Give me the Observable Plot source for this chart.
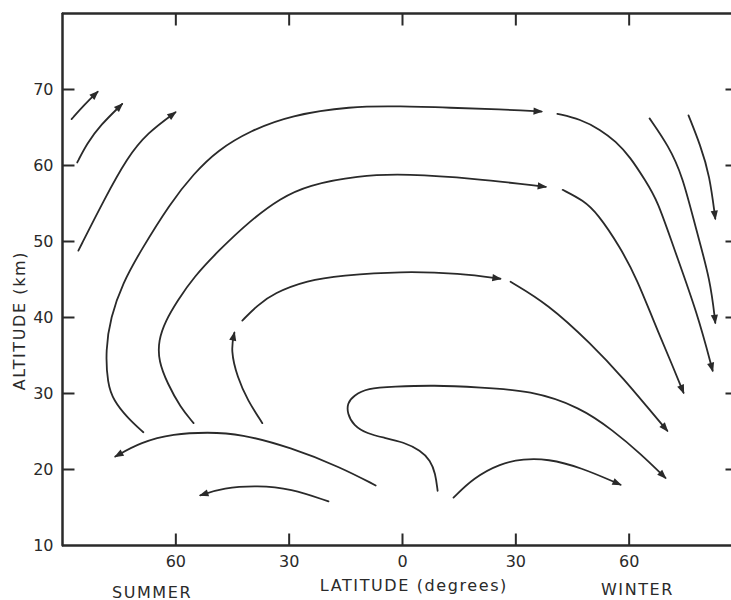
<!DOCTYPE html>
<html>
<head>
<meta charset="utf-8">
<script src="https://cdn.jsdelivr.net/npm/d3@7"></script>
<script src="https://cdn.jsdelivr.net/npm/@observablehq/plot@0.6"></script>
<style>
  html, body { margin: 0; padding: 0; overflow: hidden; background: #fff; }
  svg g[aria-label="text"] text { letter-spacing: 1.6px; }
</style>
</head>
<body>
<div id="chart"></div>
<script>
// Axis ticks (latitude: negative = summer hemisphere, positive = winter hemisphere)
const latTicks = [-60, -30, 0, 30, 60];
const altTicks = [10, 20, 30, 40, 50, 60, 70];

// Streamlines, as [latitude, altitude km] pairs, each ending in an arrowhead
const mesoArrow1 = [[-87.6, 66.1], [-84.2, 68.0], [-80.7, 69.7]];
const mesoArrow2 = [[-86.1, 60.4], [-83.5, 62.9], [-80.0, 65.3], [-74.2, 68.1]];
const mesoArrow3 = [[-85.8, 48.8], [-79.1, 55.4], [-72.8, 61.1], [-67.5, 64.3], [-60.1, 67.0]];
const outerLoopUp = [[-68.6, 24.9], [-72.8, 26.8], [-76.5, 29.1], [-78.1, 31.3], [-78.6, 35.7], [-77.3, 40.0],
  [-74.1, 44.5], [-69.3, 48.8], [-61.4, 55.1], [-55.3, 58.9], [-49.0, 62.0], [-40.2, 64.6], [-29.6, 66.6],
  [-13.8, 67.8], [-0.5, 67.8], [12.7, 67.6], [25.9, 67.4], [36.8, 67.1]];
const outerLoopDown = [[41.0, 66.8], [47.1, 66.1], [52.4, 64.7], [56.4, 63.2], [60.3, 61.1], [64.3, 58.0],
  [67.5, 55.4], [71.7, 49.3], [78.1, 40.5], [82.1, 33.0]];
const secondLoopUp = [[-55.3, 26.1], [-58.8, 28.2], [-62.2, 31.3], [-64.6, 34.3], [-64.6, 37.0], [-62.7, 39.6],
  [-59.6, 42.2], [-55.3, 45.3], [-48.7, 48.8], [-40.2, 52.8], [-32.3, 55.7], [-25.1, 57.4], [-11.9, 58.7],
  [1.3, 58.9], [18.8, 58.3], [37.9, 57.2]];
const secondLoopDown = [[42.4, 56.8], [47.9, 55.4], [51.6, 53.7], [57.7, 49.2], [62.2, 44.9], [66.4, 39.6],
  [71.7, 33.4], [74.4, 30.1]];
const winterPole1 = [[65.4, 66.2], [70.4, 62.6], [74.1, 58.7], [77.8, 51.4], [81.5, 44.9], [82.8, 39.3]];
const winterPole2 = [[75.7, 66.6], [78.9, 62.6], [81.3, 58.7], [82.8, 53.0]];
const summerRise = [[-37.1, 26.1], [-41.0, 29.1], [-43.7, 32.1], [-45.5, 35.7], [-44.5, 38.0]];
const thirdLoopUp = [[-42.4, 39.6], [-38.4, 41.6], [-34.1, 43.2], [-25.1, 44.9], [-16.4, 45.5], [-0.5, 46.1],
  [15.4, 45.8], [25.9, 45.1]];
const thirdLoopDown = [[28.6, 44.7], [38.4, 41.8], [49.8, 36.6], [59.0, 31.7], [64.8, 28.2], [70.1, 25.1]];
const tropicalS = [[9.3, 17.2], [8.7, 19.5], [7.4, 21.2], [4.8, 22.5], [0.3, 23.6], [-5.0, 24.2], [-9.3, 24.7],
  [-13.0, 25.8], [-14.6, 27.4], [-14.6, 28.7], [-13.0, 29.7], [-9.3, 30.7], [-2.4, 30.9], [8.2, 31.1],
  [20.6, 30.8], [33.9, 30.4], [47.1, 28.2], [55.8, 25.1], [63.0, 22.1], [69.6, 18.9]];
const lowerWinter = [[13.5, 16.3], [18.8, 18.9], [25.9, 20.8], [32.0, 21.4], [38.4, 21.4], [47.1, 20.3], [57.7, 18.0]];
const lowerSummer = [[-7.1, 17.9], [-16.4, 20.3], [-29.6, 22.9], [-42.9, 24.7], [-51.6, 24.9], [-60.6, 24.7],
  [-69.3, 23.6], [-76.0, 21.7]];
const lowestSummer = [[-19.6, 15.8], [-29.6, 17.5], [-38.4, 17.9], [-47.4, 17.6], [-53.5, 16.6]];

const streamlines = [
  ["mesoArrow1", mesoArrow1], ["mesoArrow2", mesoArrow2], ["mesoArrow3", mesoArrow3],
  ["outerLoopUp", outerLoopUp], ["outerLoopDown", outerLoopDown],
  ["secondLoopUp", secondLoopUp], ["secondLoopDown", secondLoopDown],
  ["winterPole1", winterPole1], ["winterPole2", winterPole2],
  ["summerRise", summerRise], ["thirdLoopUp", thirdLoopUp], ["thirdLoopDown", thirdLoopDown],
  ["tropicalS", tropicalS], ["lowerWinter", lowerWinter], ["lowerSummer", lowerSummer],
  ["lowestSummer", lowestSummer]
];
const rows = streamlines.flatMap(([id, pts]) => pts.map(([lat, alt]) => ({id, lat, alt})));

const ink = "#2a2a2a";

// filled triangular arrowhead, tip at the end of the line
const arrowHead = (color, context) => {
  const m = d3.create("svg:marker")
    .attr("viewBox", "-10 -5 12 10")
    .attr("markerWidth", 12)
    .attr("markerHeight", 10)
    .attr("markerUnits", "userSpaceOnUse")
    .attr("refX", 0)
    .attr("refY", 0)
    .attr("orient", "auto");
  m.append("path").attr("d", "M1.5,0L-8,-3.6L-8,3.6Z").attr("fill", color).attr("stroke", "none");
  return m.node();
};

const absFmt = d => String(Math.abs(d));

const W = 731, H = 600, mL = 62, mR = 0, mT = 13, mB = 55;

// frame edges drawn as "combs": each edge runs along the frame and steps
// inward at every tick (tick length ≈ 12 px, expressed in axis units)
const yTickKm = 12 / 7.6, xTickDeg = 12 / 3.778, xRightTickDeg = 17 / 3.778;
const combBottom = [{x: -90, y: 10}, ...latTicks.flatMap(v => [{x: v, y: 10}, {x: v, y: 10 + yTickKm}, {x: v, y: 10}]), {x: 90, y: 10}];
const combTop = [{x: -90, y: 80}, ...latTicks.flatMap(v => [{x: v, y: 80}, {x: v, y: 80 - yTickKm}, {x: v, y: 80}]), {x: 90, y: 80}];
const combLeft = [{x: -90, y: 10}, ...altTicks.slice(1).flatMap(v => [{x: -90, y: v}, {x: -90 + xTickDeg, y: v}, {x: -90, y: v}]), {x: -90, y: 80}];
const combRight = [{x: 90, y: 10}, ...altTicks.slice(1).flatMap(v => [{x: 90, y: v}, {x: 90 - xRightTickDeg, y: v}, {x: 90, y: v}]), {x: 90, y: 80}];

const chart = Plot.plot({
  width: W,
  height: H,
  marginLeft: mL,
  marginRight: mR,
  marginTop: mT,
  marginBottom: mB,
  style: {maxWidth: "none", fontFamily: "'DejaVu Sans', sans-serif", fontSize: "16px", color: ink, background: "#fff"},
  // the frame's winter-pole edge (90°) falls just beyond the picture
  x: {domain: [-90, 90], range: [62, 742], axis: null},
  y: {domain: [10, 80], axis: null},
  marks: [
    Plot.ruleY([10, 80], {stroke: ink, strokeWidth: 2}),
    Plot.ruleX([-90, 90], {stroke: ink, strokeWidth: 2}),
    Plot.line(combBottom, {x: "x", y: "y", stroke: ink, strokeWidth: 2, strokeLinejoin: "miter"}),
    Plot.line(combTop, {x: "x", y: "y", stroke: ink, strokeWidth: 2, strokeLinejoin: "miter"}),
    Plot.line(combLeft, {x: "x", y: "y", stroke: ink, strokeWidth: 2, strokeLinejoin: "miter"}),
    Plot.line(combRight, {x: "x", y: "y", stroke: ink, strokeWidth: 2, strokeLinejoin: "miter"}),
    // tick labels
    Plot.axisX(latTicks, {anchor: "bottom", tickSize: 0, tickPadding: 10, tickFormat: absFmt, label: null, fill: ink}),
    Plot.axisY(altTicks, {anchor: "left", tickSize: 0, tickPadding: 9, label: null, fill: ink}),
    Plot.line(rows, {x: "lat", y: "alt", z: "id", curve: "basis", stroke: ink, strokeWidth: 1.8, markerEnd: arrowHead}),
    Plot.text([{t: "ALTITUDE (km)", alt: 39.6}], {y: "alt", text: "t", frameAnchor: "left", textAnchor: "middle", dx: -43, rotate: -90, fontSize: 16, fill: ink}),
    Plot.text([{t: "LATITUDE (degrees)", lat: 3}], {x: "lat", text: "t", frameAnchor: "bottom", dy: 45, fontSize: 16, fill: ink}),
    Plot.text([{t: "SUMMER", lat: -66.3}], {x: "lat", text: "t", frameAnchor: "bottom", dy: 52, fontSize: 16, fill: ink}),
    Plot.text([{t: "WINTER", lat: 62.2}], {x: "lat", text: "t", frameAnchor: "bottom", dy: 49, fontSize: 16, fill: ink})
  ]
});
document.getElementById("chart").appendChild(chart);
</script>
</body>
</html>
